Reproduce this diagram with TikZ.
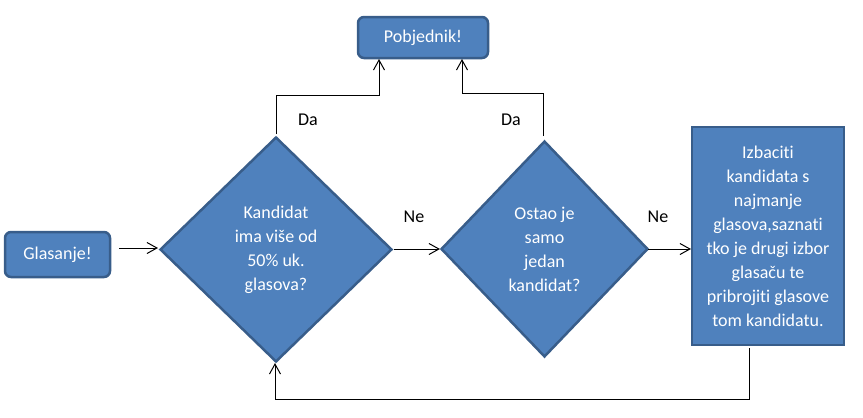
\documentclass[tikz,border=0pt]{standalone}
\usepackage{fontspec}
\setmainfont[Ligatures={NoCommon}]{Carlito}
\usetikzlibrary{shapes.geometric,arrows.meta}
\definecolor{boxfill}{HTML}{4F81BD}
\definecolor{boxline}{HTML}{385D8A}
\tikzset{
  blue/.style={fill=boxfill,draw=boxline,line width=2.5pt,text=white,align=center,
    font=\fontsize{18}{24}\selectfont,inner sep=0pt},
  rbox/.style={blue,rounded corners=6pt},
  dia/.style={blue,diamond},
  arr/.style={line width=1pt,-{Straight Barb[length=10pt,width=11pt,line width=1pt]}},
  lbl/.style={font=\fontsize{18}{22}\selectfont,text=black,inner sep=0pt}
}
\begin{document}
\begin{tikzpicture}[x=1pt,y=-1pt]
\useasboundingbox (0,0) rectangle (863,418);
\node[rbox,minimum width=105pt,minimum height=45pt] (g) at (57.5,254.5) {Glasanje!};
\node[rbox,minimum width=130pt,minimum height=41pt] (p) at (423,37.5) {Pobjednik!};
\node[dia,minimum width=232pt,minimum height=225pt] (d1) at (276,249.5) {Kandidat\\ima više od\\50\% uk.\\glasova?};
\node[dia,minimum width=207pt,minimum height=216pt] (d2) at (544.5,249) {Ostao je\\samo\\jedan\\kandidat?};
\node[blue,minimum width=152pt,minimum height=218pt] (r) at (768,236) {Izbaciti\\kandidata s\\najmanje\\glasova,saznati\\tko je drugi izbor\\glasaču te\\pribrojiti glasove\\tom kandidatu.};
% connectors
\coordinate (gs) at (119,248);
\coordinate (d1w) at (158,248);
\draw[arr] (gs) -- (d1w);
\coordinate (d1e) at (394,249);
\coordinate (d2w) at (440,249);
\draw[arr] (d1e) -- (d2w);
\coordinate (d2e) at (648,249);
\coordinate (rw) at (691,249);
\draw[arr] (d2e) -- (rw);
\coordinate (d1t) at (276,134);
\coordinate (p1) at (379,59);
\draw[arr] (d1t) -- (276,95) -| (p1);
\coordinate (d2t) at (543,136);
\coordinate (p2) at (462,59);
\draw[arr] (d2t) -- (543,93) -| (p2);
\coordinate (rs) at (749,348);
\coordinate (d1b) at (275,363);
\draw[arr] (rs) -- (749,399.5) -| (d1b);
% labels
\node[lbl] (da1) at (308,120) {Da};
\node[lbl] (da2) at (511,120) {Da};
\node[lbl] (ne1) at (414,217) {Ne};
\node[lbl] (ne2) at (658,217) {Ne};
\end{tikzpicture}
\end{document}
